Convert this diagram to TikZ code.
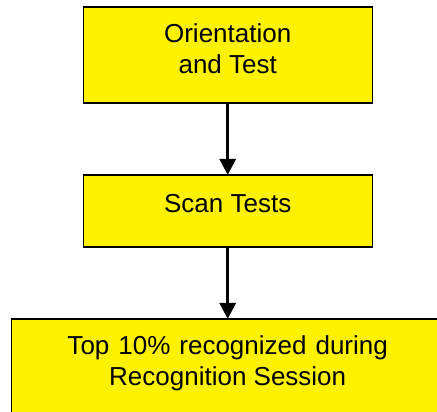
\documentclass[tikz,border=0pt]{standalone}
\usepackage{fontspec}
\setmainfont{Liberation Sans}
\usetikzlibrary{arrows.meta}
\begin{document}
\begin{tikzpicture}[x=1pt,y=1pt,
  box/.style={draw=black, line width=1.1pt, fill=yellow, rectangle, inner sep=0pt},
  txt/.style={font=\fontsize{26}{31}\selectfont, align=center, inner sep=0pt},
  conn/.style={line width=3pt, -{Triangle[length=16pt,width=16pt]}, shorten >=-0.5pt}]
\useasboundingbox (0,0) rectangle (437,-412);
\begin{scope}
\clip (0,0) rectangle (437,-412);
\node[box, minimum width=289pt, minimum height=96pt] (b1) at (227.7,-55) {};
\node[txt] (t1) at (227.7,-49.2) {Orientation\\and Test};
\node[box, minimum width=289pt, minimum height=72pt] (b2) at (227.7,-211) {};
\node[txt] (t2) at (227.7,-203.5) {Scan Tests};
\node[box, minimum width=432pt, minimum height=100pt] (b3) at (227.7,-369) {};
\node[txt] (t3) at (227.7,-363.7) {\spaceskip=9pt Top 10\% recognized during\\Recognition Session};
\end{scope}
\draw[conn] (b1.south) -- (b2.north);
\draw[conn] (b2.south) -- (b3.north);
\end{tikzpicture}
\end{document}
